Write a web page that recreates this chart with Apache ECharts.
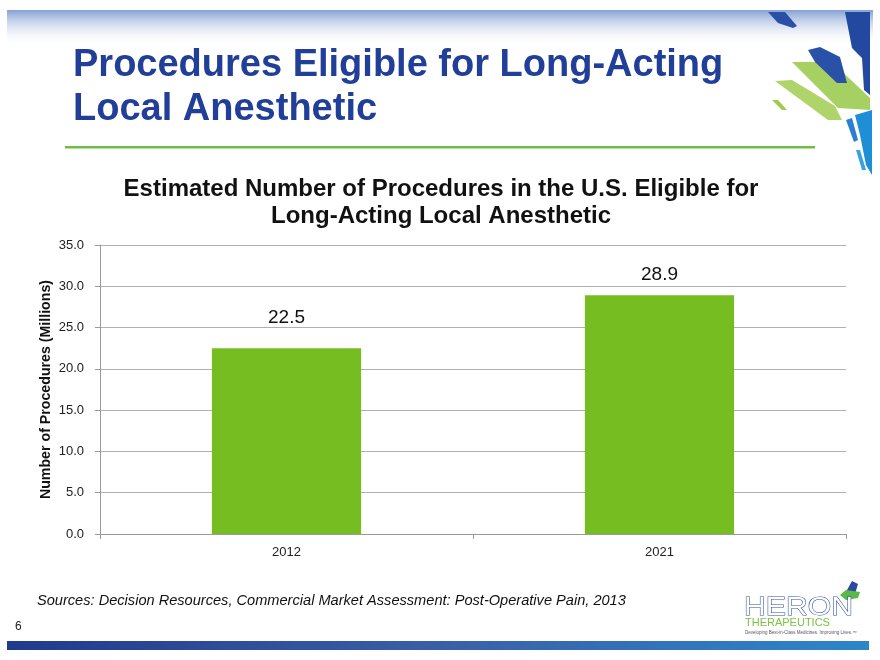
<!DOCTYPE html>
<html>
<head>
<meta charset="utf-8">
<script src="https://cdn.jsdelivr.net/npm/echarts@6/dist/echarts.min.js"></script>
<style>
html,body{margin:0;padding:0;background:#fff;}
#chart{width:880px;height:660px;}
</style>
</head>
<body>
<div id="chart"></div>
<script>
const categories = ['2012', '2021'];
const procedures = [22.5, 28.9];
const yTicks = [0, 5, 10, 15, 20, 25, 30, 35];

const slideTitle = ['Procedures Eligible for Long-Acting', 'Local Anesthetic'];
const chartTitleLines = ['Estimated Number of Procedures in the U.S. Eligible for', 'Long-Acting Local Anesthetic'];
const yAxisName = 'Number of Procedures (Millions)';
const sourceText = 'Sources: Decision Resources, Commercial Market Assessment: Post-Operative Pain, 2013';
const pageNumber = '6';

const chart = echarts.init(document.getElementById('chart'), null, {renderer: 'canvas'});

const sans = '"Liberation Sans", Arial, Helvetica, sans-serif';

const labelGap = [21, 11];

const option = {
  backgroundColor: '#ffffff',
  animation: false,
  grid: {left: 100, right: 34, top: 245, bottom: 126, containLabel: false},
  xAxis: {
    type: 'category',
    data: categories,
    axisLine: {show: true, lineStyle: {color: '#9a9a9a', width: 1}},
    axisTick: {show: true, length: 5, lineStyle: {color: '#9a9a9a'}, alignWithLabel: false},
    axisLabel: {color: '#222', fontFamily: sans, fontSize: 13, margin: 12},
    splitLine: {show: false}
  },
  yAxis: {
    type: 'value',
    min: yTicks[0],
    max: yTicks[yTicks.length - 1],
    interval: yTicks[1] - yTicks[0],
    name: yAxisName,
    nameLocation: 'middle',
    nameGap: 47,
    nameMoveOverlap: false,
    nameTextStyle: {color: '#111', fontFamily: sans, fontSize: 14.2, fontWeight: 'bold'},
    axisLine: {show: true, lineStyle: {color: '#9a9a9a', width: 1}},
    axisTick: {show: true, length: 5, inside: false, lineStyle: {color: '#9a9a9a'}},
    axisLabel: {color: '#222', fontFamily: sans, fontSize: 13, margin: 16,
      formatter: v => v.toFixed(1)},
    splitLine: {show: true, lineStyle: {color: '#b0b0b0', width: 1}}
  },
  series: [{
    type: 'bar',
    data: procedures.map((v, i) => ({value: v, label: {distance: labelGap[i]}})),
    barWidth: '40%',
    itemStyle: {color: '#76bd22'},
    label: {
      show: true,
      position: 'top',
      color: '#111',
      fontFamily: sans,
      fontSize: 19,
      formatter: p => p.value.toFixed(1)
    }
  }],
  graphic: [
    // top gradient band
    {type: 'rect', shape: {x: 7, y: 10, width: 866, height: 36}, z: -1,
      style: {fill: new echarts.graphic.LinearGradient(0, 0, 0, 1, [
        {offset: 0, color: '#84a1d4'}, {offset: 1, color: 'rgba(255,255,255,0)'}])}},
    // slide title
    {type: 'text', x: 73, y: 44, z: 5,
      style: {text: slideTitle.join('\n'), fill: '#213f99',
        font: 'bold 38px ' + sans, lineHeight: 44, align: 'left', verticalAlign: 'top'}},
    // green rule
    {type: 'rect', shape: {x: 65, y: 146, width: 750, height: 2.5},
      style: {fill: '#6cbf48'}},
    // chart title
    {type: 'text', x: 441, y: 177, z: 5,
      style: {text: chartTitleLines[0], fill: '#111', font: 'bold 24px ' + sans,
        align: 'center', textAlign: 'center', verticalAlign: 'top'}},
    {type: 'text', x: 441, y: 204, z: 5,
      style: {text: chartTitleLines[1], fill: '#111', font: 'bold 24px ' + sans,
        align: 'center', textAlign: 'center', verticalAlign: 'top'}},
    // source
    {type: 'text', x: 37, y: 593,
      style: {text: sourceText, fill: '#111', font: 'italic 14.6px ' + sans, verticalAlign: 'top'}},
    // page number
    {type: 'text', x: 15, y: 621,
      style: {text: pageNumber, fill: '#222', font: '12px ' + sans, verticalAlign: 'top'}},
    // bottom band
    {type: 'rect', shape: {x: 7, y: 641, width: 862, height: 9},
      style: {fill: new echarts.graphic.LinearGradient(0, 0, 1, 0, [
        {offset: 0, color: '#213a8c'}, {offset: 0.5, color: '#3a5fa9'}, {offset: 1, color: '#2c86c8'}])}},
    // decorative shapes (top right)
    {type: 'polygon', shape: {points: [[768, 12], [785, 12], [797, 26], [793, 28], [778, 23]]}, style: {fill: '#2a4fa6'}},
    {type: 'polygon', shape: {points: [[845, 12], [870, 12], [870, 95], [864, 90], [862, 58], [852, 48]]}, style: {fill: '#2348a0'}},
    {type: 'polygon', shape: {points: [[792, 62], [832, 62], [870, 98], [870, 110], [838, 108]]}, style: {fill: 'rgba(150,200,70,0.85)'}},
    {type: 'polygon', shape: {points: [[775, 81], [792, 80], [835, 106], [842, 120], [828, 120]]}, style: {fill: 'rgba(160,205,80,0.85)'}},
    {type: 'polygon', shape: {points: [[772, 100], [778, 100], [787, 110], [782, 110]]}, style: {fill: '#9ccd4e'}},
    {type: 'polygon', shape: {points: [[808, 50], [820, 47], [840, 57], [847, 83], [837, 83], [815, 62]]}, style: {fill: '#2a51a8'}},
    {type: 'polygon', shape: {points: [[855, 115], [872, 110], [872, 175], [866, 165], [860, 135]]}, style: {fill: '#1e8fd6'}},
    {type: 'polygon', shape: {points: [[846, 120], [852, 118], [858, 140], [854, 142]]}, style: {fill: '#2b7fd0'}},
    {type: 'polygon', shape: {points: [[856, 150], [860, 150], [866, 170], [862, 170]]}, style: {fill: '#3aa0e0'}},
    // logo
    {type: 'polygon', shape: {points: [[847, 590], [852, 581], [858, 584], [855, 594], [850, 598]]}, style: {fill: '#2a4aa0'}},
    {type: 'polygon', shape: {points: [[840, 595], [846, 590], [860, 592], [858, 598], [846, 600]]}, style: {fill: '#59b947'}},
    {type: 'text', x: 744, y: 595, scaleX: 1.16, originX: 0, originY: 0,
      style: {text: 'HERON', fill: '#ffffff', stroke: '#2d4ea0', lineWidth: 1,
        font: '26px ' + sans, verticalAlign: 'top'}},
    {type: 'text', x: 745, y: 617,
      style: {text: 'THERAPEUTICS', fill: '#7cc242', font: '11px ' + sans, verticalAlign: 'top'}},
    {type: 'text', x: 745, y: 630,
      style: {text: 'Developing Best-in-Class Medicines. Improving Lives.\u2122', fill: '#556', font: '4.5px ' + sans, verticalAlign: 'top'}}
  ]
};

chart.setOption(option);
</script>
</body>
</html>
